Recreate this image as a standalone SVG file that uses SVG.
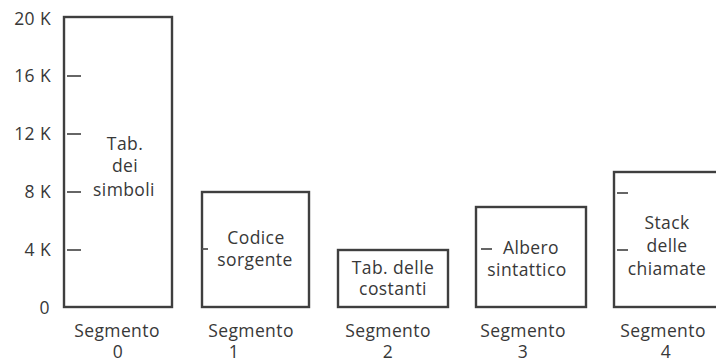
<svg xmlns="http://www.w3.org/2000/svg" width="716" height="363" viewBox="0 0 716 363">
<style>
text{font-family:"Open Sans","Liberation Sans",sans-serif;font-size:17.5px;fill:#383838;letter-spacing:0.4px}
.axis{text-anchor:end}
.c{text-anchor:middle}
.box{fill:none;stroke:#3f3f3f;stroke-width:2.4}
.tick{stroke:#555;stroke-width:1.8}
</style>
<rect width="716" height="363" fill="#fff"/>
<g id="axis">
<text class="axis" x="51" y="25">20 K</text>
<text class="axis" x="51" y="82">16 K</text>
<text class="axis" x="51" y="140">12 K</text>
<text class="axis" x="51" y="198">8 K</text>
<text class="axis" x="51" y="256">4 K</text>
<text class="axis" x="50" y="314">0</text>
</g>
<g id="seg0">
<rect class="box" x="64" y="17" width="108" height="290"/>
<line class="tick" x1="67" y1="76" x2="81" y2="76"/>
<line class="tick" x1="67" y1="134" x2="81" y2="134"/>
<line class="tick" x1="67" y1="192" x2="81" y2="192"/>
<line class="tick" x1="67" y1="250" x2="81" y2="250"/>
<text class="c" x="125" y="150">Tab.</text>
<text class="c" x="125" y="172">dei</text>
<text class="c" x="124" y="196">simboli</text>
<text class="c" x="117" y="337">Segmento</text>
<text class="c" x="118" y="358">0</text>
</g>
<g id="seg1">
<rect class="box" x="202" y="192" width="107" height="115"/>
<line class="tick" x1="202" y1="249" x2="208" y2="249"/>
<text class="c" x="256" y="244">Codice</text>
<text class="c" x="255" y="266">sorgente</text>
<text class="c" x="251" y="337">Segmento</text>
<text class="c" x="234" y="358">1</text>
</g>
<g id="seg2">
<rect class="box" x="338" y="250" width="110" height="57"/>
<text class="c" x="393" y="274">Tab. delle</text>
<text class="c" x="393" y="295">costanti</text>
<text class="c" x="388" y="337">Segmento</text>
<text class="c" x="388" y="358">2</text>
</g>
<g id="seg3">
<rect class="box" x="476" y="207" width="110" height="100"/>
<line class="tick" x1="481" y1="249" x2="492" y2="249"/>
<text class="c" x="531" y="254">Albero</text>
<text class="c" x="527" y="276">sintattico</text>
<text class="c" x="523" y="337">Segmento</text>
<text class="c" x="523" y="358">3</text>
</g>
<g id="seg4">
<rect class="box" x="614" y="172" width="106" height="135"/>
<line class="tick" x1="617" y1="193" x2="628" y2="193"/>
<line class="tick" x1="617" y1="250" x2="628" y2="250"/>
<text class="c" x="667" y="229">Stack</text>
<text class="c" x="667" y="252">delle</text>
<text class="c" x="667" y="275">chiamate</text>
<text class="c" x="663" y="337">Segmento</text>
<text class="c" x="666" y="358">4</text>
</g>
</svg>
